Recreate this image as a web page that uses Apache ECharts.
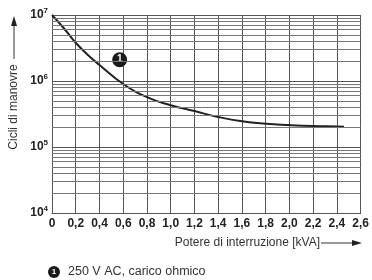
<!DOCTYPE html>
<html><head><meta charset="utf-8">
<script src="https://cdn.jsdelivr.net/npm/echarts@6/dist/echarts.min.js"></script>
<style>html,body{margin:0;padding:0;background:#fff}#c{width:372px;height:280px}</style>
</head><body><div id="c"></div>
<script>
// Data
var xValues = [0, 0.1, 0.2, 0.3, 0.4, 0.6, 0.8, 1.0, 1.2, 1.4, 1.6, 1.8, 2.0, 2.2, 2.4, 2.46];
var cycles  = [1e7, 6.3e6, 3.8e6, 2.5e6, 1.75e6, 9e5, 5.7e5, 4.3e5, 3.5e5, 2.85e5, 2.45e5, 2.25e5, 2.15e5, 2.08e5, 2.04e5, 2.02e5];
var minorGrid = [2e4,3e4,4e4,5e4,6e4,7e4,8e4,9e4, 2e5,3e5,4e5,5e5,6e5,7e5,8e5,9e5, 2e6,3e6,4e6,5e6,6e6,7e6,8e6,9e6];
var annotation = [[0.57, 2.1e6]];
var xTitle = 'Potere di interruzione [kVA]';
var yTitle = 'Cicli di manovre';
var legendText = '250 V AC, carico ohmico';

var FONT = '"Liberation Sans", Arial, sans-serif';
var chart = echarts.init(document.getElementById('c'));
var series = xValues.map(function(x,i){return [x, cycles[i]];});

chart.setOption({
  animation: false,
  grid: {left: 52, right: 9, top: 15, bottom: 67},
  xAxis: {
    type: 'value', min: 0, max: 2.6, interval: 0.2,
    axisLine: {show: true, lineStyle: {color: '#555', width: 1}},
    axisTick: {show: false},
    splitLine: {show: true, lineStyle: {color: '#555', width: 1}},
    axisLabel: {
      color: '#222', fontFamily: FONT, fontWeight: 'bold', fontSize: 12, margin: 5,
      formatter: function(v){ return v === 0 ? '0' : v.toFixed(1).replace('.', ','); }
    }
  },
  yAxis: {
    type: 'log', logBase: 10, min: 1e4, max: 1e7,
    axisLine: {show: true, lineStyle: {color: '#555', width: 1}},
    axisTick: {show: false},
    splitLine: {show: true, lineStyle: {color: '#555', width: 1}},
    axisLabel: {
      color: '#222', fontFamily: FONT, margin: 4,
      formatter: function(v){ var e = Math.round(Math.log10(v)); return '{b|10}{s|' + e + '}'; },
      rich: {
        b: {fontFamily: FONT, fontWeight: 'bold', fontSize: 12, color: '#222'},
        s: {fontFamily: FONT, fontWeight: 'bold', fontSize: 8, color: '#222', verticalAlign: 'top', padding: [0,0,8,0]}
      }
    }
  },
  series: [
    {
      type: 'line', data: series, smooth: true, showSymbol: false,
      lineStyle: {color: '#222', width: 2},
      markLine: {
        silent: true, symbol: 'none', label: {show: false},
        lineStyle: {color: '#777', width: 1, type: 'solid'},
        data: minorGrid.map(function(v){ return {yAxis: v}; })
      },
      z: 3
    },
    {
      type: 'scatter', data: annotation, symbol: 'circle', symbolSize: 15,
      itemStyle: {color: '#1a1a1a', opacity: 1},
      label: {show: true, position: 'inside', formatter: '1', color: '#fff', fontFamily: FONT, fontWeight: 'bold', fontSize: 10},
      z: 4
    }
  ],
  graphic: [
    // y title
    {type: 'text', x: 14, y: 107, rotation: Math.PI/2,
     style: {text: yTitle, font: '12px ' + FONT, fill: '#333', textAlign: 'center', textVerticalAlign: 'middle'}},
    {type: 'line', shape: {x1: 14, y1: 24, x2: 14, y2: 59}, style: {stroke: '#333', lineWidth: 1}},
    {type: 'polygon', shape: {points: [[14, 16], [11, 26], [17, 26]]}, style: {fill: '#222'}},
    // x title
    {type: 'text', x: 320, y: 243,
     style: {text: xTitle, font: '12px ' + FONT, fill: '#333', textAlign: 'right', textVerticalAlign: 'middle'}},
    {type: 'line', shape: {x1: 321, y1: 243, x2: 354, y2: 243}, style: {stroke: '#333', lineWidth: 1}},
    {type: 'polygon', shape: {points: [[362, 243], [352, 240], [352, 246]]}, style: {fill: '#222'}},
    // legend
    {type: 'circle', shape: {cx: 54, cy: 272, r: 6}, style: {fill: '#1a1a1a'}},
    {type: 'text', x: 54, y: 272, style: {text: '1', font: 'bold 8px ' + FONT, fill: '#fff', textAlign: 'center', textVerticalAlign: 'middle'}},
    {type: 'text', x: 68, y: 272, style: {text: legendText, font: '12.5px ' + FONT, fill: '#333', textVerticalAlign: 'middle'}}
  ]
});
</script></body></html>
